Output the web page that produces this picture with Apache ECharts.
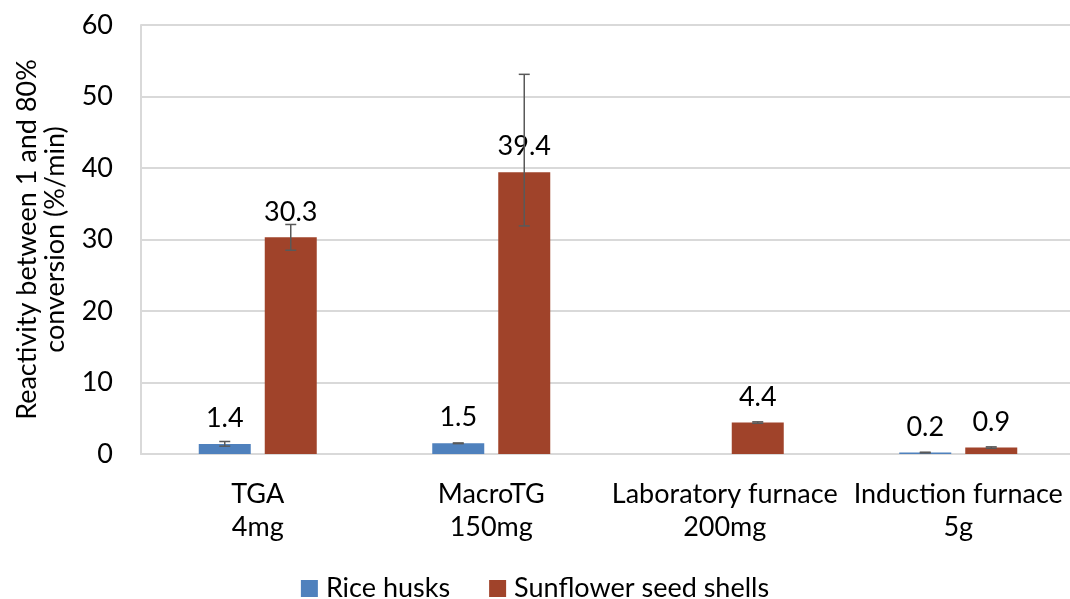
<!DOCTYPE html>
<html><head><meta charset="utf-8">
<script src="https://cdn.jsdelivr.net/npm/echarts@6/dist/echarts.min.js"></script>
<style>html,body{margin:0;padding:0;background:#fff}#c{width:1070px;height:599px}</style>
</head><body><div id="c"></div>
<script>
const categories = ['TGA\n4mg', 'MacroTG\n150mg', 'Laboratory furnace\n200mg', 'Induction furnace\n5g'];
const riceValues = [1.4, 1.5, null, 0.2];
const riceErrLow = [1.1, 1.45, null, 0.15];
const riceErrHigh = [1.75, 1.55, null, 0.25];
const sunValues = [30.3, 39.4, 4.4, 0.9];
const sunErrLow = [28.5, 31.9, 4.3, 0.8];
const sunErrHigh = [32.1, 53.1, 4.5, 1.0];
const yTicks = [0, 10, 20, 30, 40, 50, 60];

const FONT = 'Lato';
const FS = 27;
const BAR_W = 52, GAP = 14;
const chart = echarts.init(document.getElementById('c'));

function errSeries(low, high, offset) {
  const data = low.map((l, i) => (l == null ? null : [i, l, high[i]])).filter(d => d);
  return {
    type: 'custom', silent: true, z: 5,
    data: data,
    renderItem: function (params, api) {
      const i = api.value(0);
      const p1 = api.coord([i, api.value(1)]);
      const p2 = api.coord([i, api.value(2)]);
      const x = p1[0] + offset;
      const cw = 5.5;
      const st = { stroke: '#595959', lineWidth: 1.5 };
      return { type: 'group', children: [
        { type: 'line', shape: { x1: x, y1: p1[1], x2: x, y2: p2[1] }, style: st },
        { type: 'line', shape: { x1: x - cw, y1: p1[1], x2: x + cw, y2: p1[1] }, style: st },
        { type: 'line', shape: { x1: x - cw, y1: p2[1], x2: x + cw, y2: p2[1] }, style: st }
      ]};
    }
  };
}

const labelCfg = { show: true, position: 'top', distance: 12, fontFamily: FONT, fontSize: FS, color: '#000' };

chart.setOption({
  animation: false,
  textStyle: { fontFamily: FONT },
  grid: { left: 141, top: 25, width: 934, height: 429, containLabel: false, outerBoundsMode: 'none' },
  legend: {
    top: 570, left: 'center', itemWidth: 17, itemHeight: 17, itemGap: 39,
    icon: 'rect',
    textStyle: { fontFamily: FONT, fontSize: FS, color: '#000', padding: [0, 0, 0, 3] },
    data: ['Rice husks', 'Sunflower seed shells']
  },
  xAxis: {
    type: 'category', data: categories,
    axisLine: { lineStyle: { color: '#d9d9d9', width: 2 } },
    axisTick: { show: false },
    axisLabel: { fontFamily: FONT, fontSize: FS, color: '#000', lineHeight: 33, margin: 24, interval: 0, hideOverlap: false }
  },
  yAxis: {
    type: 'value', min: 0, max: 60, interval: 10,
    name: 'Reactivity between 1 and 80%\nconversion (%/min)',
    nameLocation: 'middle', nameRotate: 90, nameGap: 72,
    nameTextStyle: { fontFamily: FONT, fontSize: FS, color: '#000', lineHeight: 28 },
    axisLine: { show: true, lineStyle: { color: '#d9d9d9', width: 2 } },
    axisTick: { show: false },
    axisLabel: { fontFamily: FONT, fontSize: FS, color: '#000', margin: 28,
      formatter: v => (yTicks.indexOf(v) >= 0 ? String(v) : '') },
    splitLine: { lineStyle: { color: '#d9d9d9', width: 2 } }
  },
  series: [
    { name: 'Rice husks', type: 'bar', data: riceValues, barWidth: BAR_W, barGap: (GAP / BAR_W * 100) + '%',
      itemStyle: { color: '#4f81bd' }, label: labelCfg },
    { name: 'Sunflower seed shells', type: 'bar', data: sunValues, barWidth: BAR_W,
      itemStyle: { color: '#a0432a' }, label: labelCfg },
    errSeries(riceErrLow, riceErrHigh, -(BAR_W + GAP) / 2),
    errSeries(sunErrLow, sunErrHigh, (BAR_W + GAP) / 2)
  ]
});
</script>
</body></html>
